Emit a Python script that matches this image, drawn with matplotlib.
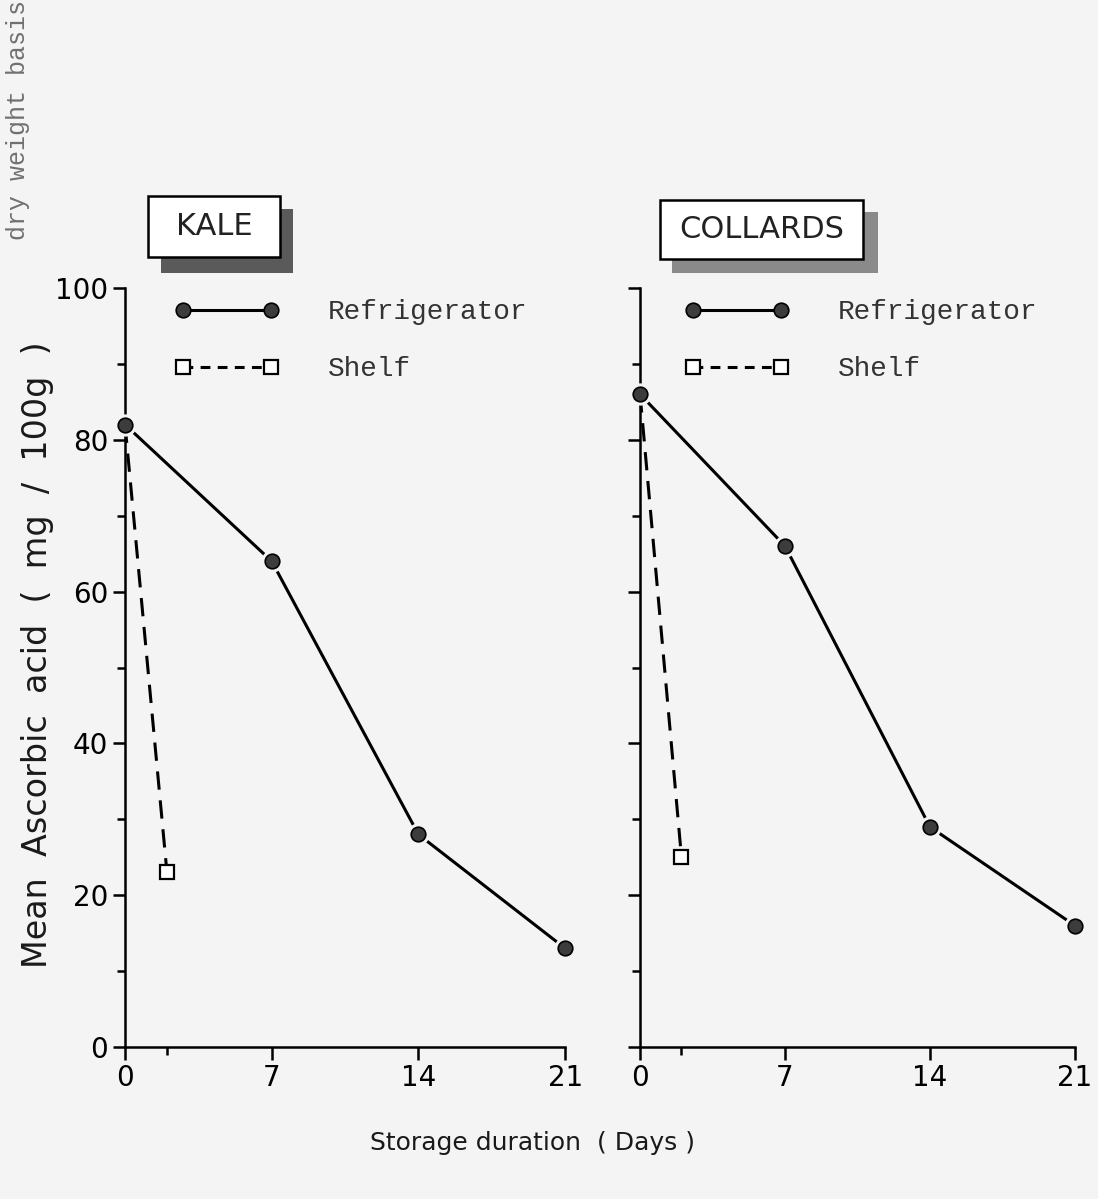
import matplotlib
matplotlib.use("Agg")
import matplotlib.pyplot as plt
from matplotlib.patches import Rectangle

# data
days = [0, 7, 14, 21]
shelf_days = [0, 2]
kale_fridge = [82, 64, 28, 13]
kale_shelf = [82, 23]
collards_fridge = [86, 66, 29, 16]
collards_shelf = [86, 25]
panel_names = ["KALE", "COLLARDS"]
series_labels = ["Refrigerator", "Shelf"]
yticks_major = [0, 20, 40, 60, 80, 100]
yticks_minor = [10, 30, 50, 70, 90]

W, H = 1098, 1199
BG = "#f4f4f4"
tickfont = {"family": "DejaVu Sans", "size": 20}

fig = plt.figure(figsize=(W / 100, H / 100), dpi=100, facecolor=BG)


def fx(x):
    return x / W


def fy(y):
    return 1 - y / H


def panel(rect, fridge, shelf, labels):
    ax = fig.add_axes(rect)
    ax.set_facecolor("none")
    ax.set_xlim(-1.5, 22)
    ax.set_ylim(0, 100)
    for s in ("top", "right"):
        ax.spines[s].set_visible(False)
    ax.spines["left"].set_position(("data", 0))
    ax.spines["left"].set_bounds(0, 100)
    ax.spines["bottom"].set_bounds(0, 21)
    for s in ("left", "bottom"):
        ax.spines[s].set_linewidth(1.8)

    ax.set_xticks(days)
    ax.set_xticks([2], minor=True)
    ax.set_yticks(yticks_major)
    ax.set_yticks(yticks_minor, minor=True)
    ax.tick_params(which="major", direction="out", length=9, width=1.8, pad=3)
    ax.tick_params(which="minor", direction="out", length=6, width=1.8)
    ax.set_xticklabels([str(d) for d in days], **tickfont)
    if labels:
        ax.set_yticklabels([str(v) for v in yticks_major], **tickfont)
    else:
        ax.set_yticklabels([])

    # lines first, then a halo in the paper colour, then the markers -> small gap like the print
    ax.plot(days, fridge, "-", color="black", lw=2.2, zorder=2, clip_on=False)
    ax.plot(days, fridge, "o", ls="none", ms=15, mfc=BG, mec=BG, zorder=3, clip_on=False)
    ax.plot(days, fridge, "o", ls="none", ms=10.5, mfc="#3c3c3c", mec="black",
            mew=1.2, zorder=4, clip_on=False)
    ax.plot(shelf_days, shelf, color="black", lw=2.2, ls=(0, (6, 3.5)), zorder=2, clip_on=False)
    ax.plot(shelf_days[1:], shelf[1:], "s", ls="none", ms=10, mfc="white", mec="black",
            mew=1.6, zorder=4, clip_on=False)

    hf = plt.Line2D([], [], color="black", lw=2.2, marker="o", ms=10.5,
                    mfc="#3c3c3c", mec="black", mew=1.2)
    hs = plt.Line2D([], [], color="black", lw=2.2, ls=(0, (3.2, 2.4)), marker="s", ms=10,
                    mfc="white", mec="black", mew=1.6)
    return ax, hf, hs


# axes placed from the pixel geometry of the scan
axL, hfL, hsL = panel([fx(93.6), fy(1047), fx(492.5), 759 / H], kale_fridge, kale_shelf, True)
axR, hfR, hsR = panel([fx(609), fy(1047), fx(486.6), 759 / H], collards_fridge, collards_shelf, False)

for ax, hf, hs, x0 in ((axL, hfL, hsL, 0.165), (axR, hfR, hsR, 0.156)):
    leg = ax.legend([hf, hs], series_labels, loc="upper left", bbox_to_anchor=(x0, 0.985),
                    frameon=False, numpoints=2, handlelength=3.75, handletextpad=1.75,
                    borderpad=0, borderaxespad=0, labelspacing=1.12,
                    prop={"family": "Liberation Mono", "size": 20})
    for t in leg.get_texts():
        t.set_color("#333333")

# title boxes with the dark smudged shadow
boxes = [((148, 196, 280, 257), (161, 209, 293, 273), "#5a5a5a"),
         ((660, 200, 863, 259), (672, 212, 878, 273), "#8a8a8a")]
for name, (b, s, sc) in zip(panel_names, boxes):
    fig.add_artist(Rectangle((fx(s[0]), fy(s[3])), fx(s[2] - s[0]), (s[3] - s[1]) / H,
                             transform=fig.transFigure, facecolor=sc, edgecolor="none"))
    fig.add_artist(Rectangle((fx(b[0]), fy(b[3])), fx(b[2] - b[0]), (b[3] - b[1]) / H,
                             transform=fig.transFigure, facecolor="white",
                             edgecolor="black", lw=1.8))
    fig.text(fx((b[0] + b[2]) / 2), fy((b[1] + b[3]) / 2), name, ha="center", va="center",
             fontsize=22, family="DejaVu Sans", color="#222222")

fig.text(fx(38), fy(655), "Mean  Ascorbic  acid  (  mg  /  100g  )", rotation=90,
         ha="center", va="center", fontsize=24, color="#1a1a1a")
fig.text(fx(18), fy(240), "dry weight basis", rotation=90, ha="center", va="bottom",
         fontsize=18, family="Liberation Mono", color="#707070")
fig.text(fx(533), fy(1143), "Storage duration  ( Days )", ha="center", va="center",
         fontsize=18, color="#1a1a1a")

fig.savefig("out.png", dpi=100, facecolor=BG)
